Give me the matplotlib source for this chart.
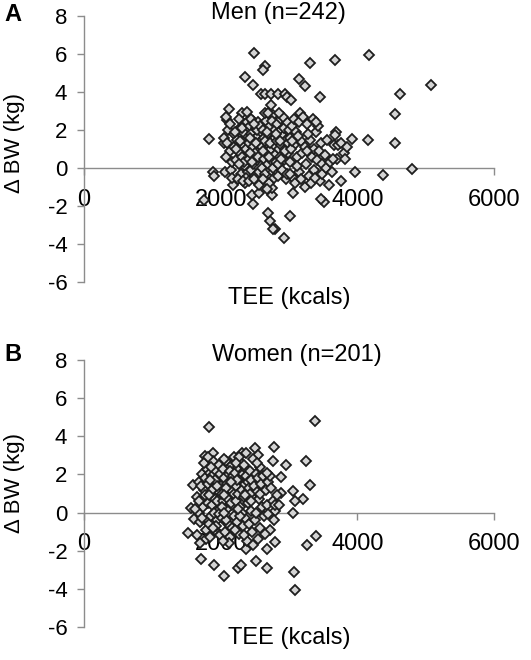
import matplotlib
matplotlib.use("Agg")
import matplotlib.pyplot as plt

plt.rcParams['font.family'] = ['Liberation Sans', 'DejaVu Sans']
plt.rcParams['axes.unicode_minus'] = False

# Men (n=242): TEE (kcals) vs change in body weight (kg)
men_tee = [
    # outliers
    2486, 2647, 2622, 2359, 2476, 2590, 2647, 2730, 2846, 2944, 2973, 3032, 3144, 3241, 3314,
    3456, 3670, 4167, 5079, 4625, 4552, 4552, 4162, 4806, 4372, 3967, 3767, 3919, 3694, 3670,
    3660, 3704, 3514, 3466, 3012, 2929, 2793, 2759, 2720, 2686, 2476, 2462, 2564, 2744, 2754,
    3061, 1828, 1755, 1891, 1906, 2062, 2149, 2184, 2047, 2086, 2076, 2125, 2306, 2388,
    # 2000-2200
    2050, 2110, 2140, 2100, 2170, 2190, 2080, 2160, 2130, 2200,
    # 2200-2400
    2220, 2240, 2260, 2280, 2300, 2320, 2340, 2360, 2380, 2250, 2270, 2310, 2330, 2350, 2370,
    2390, 2230, 2290, 2345, 2395, 2210, 2265, 2305, 2375, 2325,
    # 2400-2600
    2410, 2420, 2430, 2440, 2450, 2460, 2470, 2480, 2490, 2500, 2510, 2520, 2530, 2540, 2550,
    2560, 2570, 2580, 2590, 2600, 2415, 2445, 2475, 2505, 2535, 2565, 2595, 2425, 2455, 2485,
    2515, 2545, 2575, 2435, 2495,
    # 2600-2800
    2610, 2620, 2630, 2640, 2650, 2660, 2670, 2680, 2690, 2700, 2710, 2720, 2730, 2740, 2750,
    2760, 2770, 2780, 2790, 2800, 2615, 2645, 2675, 2705, 2735, 2765, 2795, 2625, 2655, 2685,
    2715, 2745, 2775, 2695,
    # 2800-3000
    2810, 2820, 2830, 2840, 2850, 2860, 2870, 2880, 2890, 2900, 2910, 2920, 2930, 2940, 2950,
    2960, 2970, 2980, 2990, 2815, 2845, 2875, 2905, 2935, 2965, 2995, 2855, 2885,
    # 3000-3200
    3010, 3020, 3040, 3060, 3080, 3100, 3120, 3140, 3160, 3180, 3030, 3070, 3090, 3110, 3130,
    3150, 3170, 3190, 3050, 3015,
    # 3200-3500
    3210, 3230, 3250, 3270, 3290, 3310, 3330, 3350, 3370, 3390, 3410, 3430, 3450, 3470, 3490,
    3240, 3280, 3320, 3360, 3400, 3440, 3480, 3260, 3380,
    # 3500-3900
    3520, 3540, 3560, 3600, 3630, 3720, 3760, 3800, 3820, 3850, 3580, 3650,
]
men_dbw = [
    6.07, 5.39, 5.16, 4.78, 4.39, 3.88, 3.88, 3.88, 3.88, 3.88, 3.76, 3.58, 4.69, 4.29, 5.51,
    3.76, 5.67, 5.97, 4.38, 3.88, 2.86, 1.34, 1.48, -0.04, -0.39, -0.23, -0.71, 1.52, 1.92, 1.75,
    1.19, 0.47, -1.80, -1.62, -2.52, -3.71, -3.20, -3.22, -2.80, -2.38, -1.90, -1.41, -1.29, -1.41, -1.06,
    -1.29, 1.52, -1.67, -0.23, -0.41, -0.23, -0.09, -0.88, 1.34, 2.54, 2.71, 3.09, 2.88, 2.97,
    1.6, 2.0, 0.9, 1.3, 0.3, 1.8, 0.6, -0.5, 2.3, 1.1,
    0.4, 1.5, 2.0, 0.8, -0.3, 1.2, 2.3, 0.1, 1.7, -0.6, 2.6, 0.6, 1.9, -0.8, 1.0,
    2.4, 1.0, 1.4, 0.3, -0.2, 1.9, 0.2, 2.1, -0.5, -0.7,
    1.3, 0.5, 2.2, -0.1, 1.8, 0.9, 2.5, 0.2, 1.5, -0.4, 2.1, 1.0, 0.4, 1.7, 2.4,
    -0.2, 1.2, 0.7, 1.9, 0.0, -0.7, 2.6, 1.1, 0.8, 2.0, -0.9, 1.4, 1.6, 0.3, -0.6,
    1.3, 0.6, 2.2, 0.8, 2.3,
    1.1, 2.0, 0.5, 1.6, -0.3, 2.5, 0.9, 1.3, 0.2, 1.8, -0.8, 2.2, 1.0, 0.4, 1.5,
    2.8, -0.2, 1.2, 0.7, 2.0, -0.6, 2.9, 1.9, 0.6, 3.3, 0.0, 1.6, 0.9, 1.4, -1.1,
    1.3, 2.5, -0.5, 2.9,
    0.3, 1.4, 2.3, -0.4, 1.0, 1.9, 0.6, 2.6, 1.2, -0.1, 1.7, 0.4, 2.1, 1.0, -0.6,
    1.5, 2.4, 0.8, 1.3, 1.8, 0.2, 1.4, 2.7, 0.9, -0.3, 2.0, 2.9, 0.5,
    1.6, 0.3, 2.2, -0.5, 1.2, 1.9, 0.6, -0.2, 2.9, 1.4, 1.0, 2.6, -0.8, 0.1, 1.7,
    2.4, -0.6, 0.8, 1.4, -0.3,
    2.7, 1.1, 0.2, 2.3, -0.4, 1.5, 0.6, 2.6, -0.1, 1.9, 0.4, 2.2, -0.7, 1.3, 0.2,
    -1.0, 1.8, -0.8, 1.0, 2.4, 0.9, -0.3, 0.9, -0.5,
    0.7, 0.0, 1.5, 0.3, -0.2, 1.2, 1.3, 0.8, 0.5, 1.1, -0.9, 0.5,
]

# Women (n=201)
women_tee = [
    # outliers
    1833, 3387, 3246, 3314, 3207, 3090, 3061, 3061, 2954, 2778, 2768, 2876, 2890, 2802, 2802,
    3402, 3266, 3066, 3090, 2671, 2515, 2257, 2296, 2047, 1906, 1706, 1526, 1565, 1599, 1613,
    1682, 1769, 1891, 2306, 2369, 2500, 2549, 2369, 2671,
    # 1600-1800
    1650, 1680, 1700, 1720, 1740, 1760, 1780, 1800, 1660, 1690, 1710, 1730, 1750, 1770, 1790,
    1620, 1770, 1700,
    # 1800-2000
    1810, 1820, 1830, 1840, 1850, 1860, 1870, 1880, 1890, 1900, 1910, 1920, 1930, 1940, 1950,
    1960, 1970, 1980, 1990, 2000, 1815, 1845, 1875, 1905, 1935, 1965, 1995, 1825, 1855, 1885,
    1915, 1945, 1975,
    # 2000-2200
    2010, 2020, 2030, 2040, 2050, 2060, 2070, 2080, 2090, 2100, 2110, 2120, 2130, 2140, 2150,
    2160, 2170, 2180, 2190, 2200, 2015, 2045, 2075, 2105, 2135, 2165, 2195, 2025, 2055, 2085,
    2115, 2145, 2175, 2035,
    # 2200-2400
    2210, 2220, 2230, 2240, 2250, 2260, 2270, 2280, 2290, 2300, 2310, 2320, 2330, 2340, 2350,
    2360, 2370, 2380, 2390, 2400, 2215, 2245, 2275, 2305, 2335, 2365, 2395, 2225, 2285, 2345,
    # 2400-2600
    2410, 2420, 2430, 2440, 2450, 2460, 2470, 2480, 2490, 2500, 2510, 2520, 2530, 2540, 2550,
    2560, 2570, 2580, 2590, 2600, 2425, 2475, 2525, 2575,
    # 2600-2900
    2620, 2640, 2660, 2680, 2700, 2720, 2740, 2760, 2780, 2800, 2650, 2700, 2720, 2830, 2860,
    2680,
    # extra
    1950, 2050, 2150, 2250, 2350, 2450, 1850,
]
women_dbw = [
    4.48, 4.81, 2.71, 1.44, 0.70, 0.60, 1.12, 0.00, 2.49, 3.43, 2.71, 1.84, 1.05, 0.09, -1.56,
    -1.23, -1.68, -3.12, -4.08, -2.89, -2.56, -2.89, -2.77, -3.33, -2.73, -2.42, -1.09, 0.25, 1.44, -0.32,
    -0.02, 2.99, 3.10, 3.10, 3.13, 3.36, 3.01, -1.93, -1.93,
    0.8, 1.6, -0.5, 2.0, 0.3, 1.2, -0.9, 2.3, -1.2, 0.6, 1.4, -0.3, 2.6, 0.9, -1.4,
    0.2, 1.8, -1.6,
    0.5, 1.5, -0.6, 2.1, 1.0, -0.2, 1.9, 0.4, 2.7, 1.3, -0.9, 0.7, 2.2, 1.6, -0.4,
    0.1, 1.1, 2.5, -1.2, 0.8, 2.9, -1.3, 1.2, 0.0, -0.7, 1.8, 2.0, 0.9, 2.4, -0.8,
    1.7, 0.6, -0.1,
    1.4, -0.3, 2.3, 0.6, 1.8, -1.0, 1.1, 2.7, 0.2, 1.5, -0.6, 2.0, 0.9, -1.3, 1.2,
    2.5, 0.4, 1.7, -0.2, 1.0, 0.3, 2.8, -0.4, 0.7, 2.2, -0.8, 2.9, 1.0, 0.0, 1.3,
    -1.6, 0.5, 1.9, -1.5,
    2.1, 0.6, 1.4, -0.5, 2.4, 1.0, -1.1, 1.8, 0.3, 2.6, 1.2, -0.7, 2.0, 0.8, 1.5,
    -0.3, 2.3, 1.1, -1.5, 0.5, -0.9, 1.7, 2.9, 0.0, -1.2, 1.9, 1.6, 2.6, -0.2, 2.5,
    1.3, -0.6, 2.2, 0.1, 1.7, -1.0, 2.8, 0.9, 1.4, -0.4, 2.0, 0.0, 1.1, -1.4, 1.8,
    0.7, 2.4, -0.8, 1.5, 0.3, 1.0, -1.7, 2.6, 1.0,
    1.9, -0.2, 1.2, 0.4, 1.6, -0.9, 1.3, 0.6, -0.4, 0.4, -1.1, -0.1, 1.9, 0.9, 0.4,
    2.1,
    1.4, 0.9, 1.6, 0.2, 0.9, 0.6, 1.7,
]

panels = [("A", "Men (n=242)", men_tee, men_dbw),
          ("B", "Women (n=201)", women_tee, women_dbw)]

W, H = 531, 660
fig = plt.figure(figsize=(W / 100, H / 100), dpi=100)
axis_color = "#8c8c8c"

# panel layout in pixels: (axes top, axes bottom, title x, title y, letter y, xlabel y, ylabel y)
layout = [(16, 282, 278, 13, 3, 298, 143),
          (360, 627, 297, 355, 343, 638, 483)]

for (letter, title, tee, dbw), (top, bot, tx, ty, ly, xly, yly) in zip(panels, layout):
    ax = fig.add_axes([84 / W, 1 - bot / H, 410 / W, (bot - top) / H])
    ax.plot(tee, dbw, linestyle="none", marker="D", markersize=4.6,
            markerfacecolor="#d4d4d4", markeredgecolor="#1e1e1e",
            markeredgewidth=1.3, zorder=3)
    ax.set_xlim(0, 6000)
    ax.set_ylim(-6, 8)
    ax.set_xticks([0, 2000, 4000, 6000])
    ax.set_yticks(range(-6, 9, 2))
    ax.spines["top"].set_visible(False)
    ax.spines["right"].set_visible(False)
    ax.spines["bottom"].set_position(("data", 0))
    for s in ("left", "bottom"):
        ax.spines[s].set_color(axis_color)
        ax.spines[s].set_linewidth(1.0)
    ax.tick_params(axis="y", direction="out", length=5, width=1.0,
                   color=axis_color, labelsize=16, pad=7)
    ax.tick_params(axis="x", direction="out", length=5, width=1.0,
                   color=axis_color, labelsize=17, pad=10)

    fig.text(15 / W, 1 - yly / H, "\u0394 BW (kg)", rotation=90, fontsize=16,
             ha="center", va="center")
    fig.text(289 / W, 1 - xly / H, "TEE (kcals)", fontsize=17,
             ha="center", va="center")
    fig.text(tx / W, 1 - ty / H, title, fontsize=17, ha="center", va="center")
    fig.text(4 / W, 1 - ly / H, letter, fontsize=17, fontweight="bold",
             ha="left", va="top")

fig.savefig("out.png", dpi=100)
